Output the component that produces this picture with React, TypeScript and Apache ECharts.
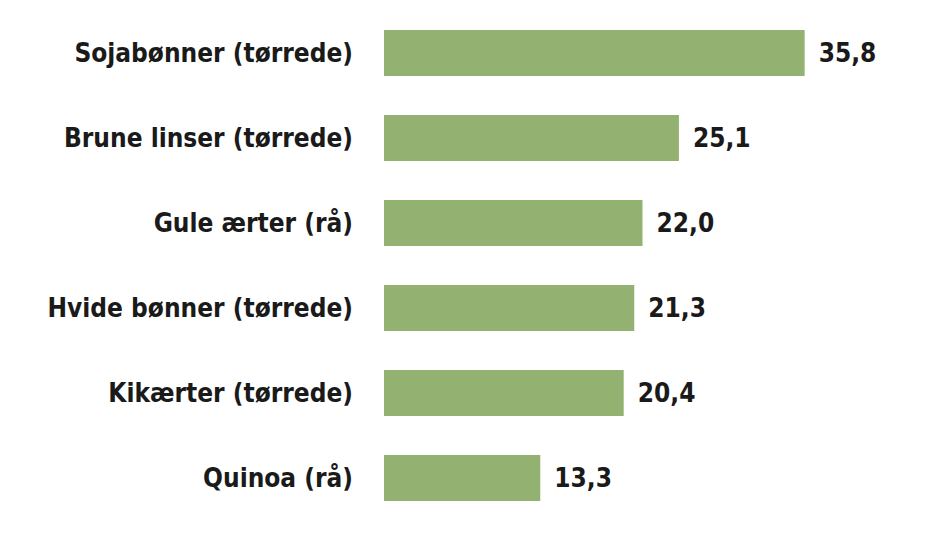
import React, { useEffect, useRef } from "react";
import * as echarts from "echarts";

const categories = [
  "Sojabønner (tørrede)",
  "Brune linser (tørrede)",
  "Gule ærter (rå)",
  "Hvide bønner (tørrede)",
  "Kikærter (tørrede)",
  "Quinoa (rå)",
];
const values = [35.8, 25.1, 22.0, 21.3, 20.4, 13.3];

const FONT = "'DejaVu Sans Condensed', sans-serif";

export default function App() {
  const ref = useRef<HTMLDivElement>(null);
  useEffect(() => {
    document.body.style.margin = "0";
    const chart = echarts.init(ref.current!, null, { renderer: "svg" });
    chart.setOption({
      animation: false,
      backgroundColor: "#ffffff",
      grid: { left: 384, top: 10.5, width: 470, height: 510 },
      xAxis: {
        type: "value",
        min: 0,
        max: 40,
        show: false,
      },
      yAxis: {
        type: "category",
        inverse: true,
        data: categories,
        axisLine: { show: false },
        axisTick: { show: false },
        axisLabel: {
          margin: 31,
          color: "#1a1a1a",
          fontFamily: FONT,
          fontWeight: "bold",
          fontSize: 26,
        },
      },
      series: [
        {
          type: "bar",
          data: values,
          barWidth: 46,
          itemStyle: { color: "#93b272" },
          label: {
            show: true,
            position: "right",
            distance: 14,
            color: "#1a1a1a",
            fontFamily: FONT,
            fontWeight: "bold",
            fontSize: 26,
            formatter: (p: any) => p.value.toFixed(1).replace(".", ","),
          },
        },
      ],
    });
    return () => chart.dispose();
  }, []);
  return <div ref={ref} style={{ width: 926, height: 542 }} />;
}
